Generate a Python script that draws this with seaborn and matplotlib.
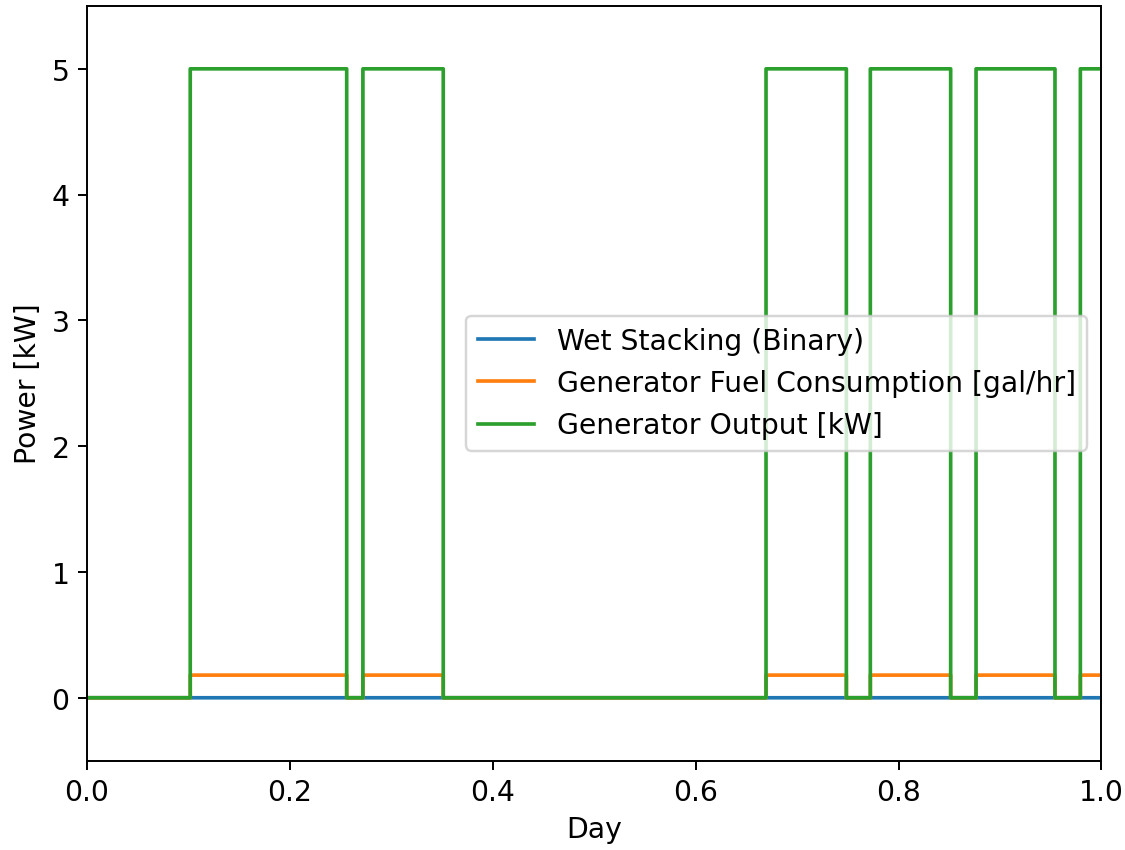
import numpy as np
import pandas as pd
import matplotlib
matplotlib.use("Agg")
import matplotlib.pyplot as plt
import seaborn as sns

# Periodos em que o gerador esta ligado (fração do dia)
on_starts = [0.102, 0.272, 0.669, 0.772, 0.876, 0.979]
on_ends = [0.256, 0.351, 0.748, 0.851, 0.954, 1.0]
gen_output_kw = 5.0      # saída do gerador quando ligado
fuel_rate = 0.18         # consumo em gal/hr quando ligado
wet_stacking = 0.0       # binário, nunca ativo

# Série temporal com passo de 1 minuto
t = np.linspace(0, 1, 1441)
on = np.zeros_like(t, dtype=bool)
for a, b in zip(on_starts, on_ends):
    on |= (t >= a) & (t < b)
on[-1] = on[-2]

df = pd.DataFrame({
    "Day": t,
    "wet": np.full_like(t, wet_stacking),
    "fuel": np.where(on, fuel_rate, 0.0),
    "gen": np.where(on, gen_output_kw, 0.0),
})

plt.rcParams["font.size"] = 11.6

fig, ax = plt.subplots(figsize=(6.4, 4.84), dpi=175.8)

sns.lineplot(ax=ax, data=df, x="Day", y="wet", estimator=None, color="tab:blue",
             label="Wet Stacking (Binary)", drawstyle="steps-post", lw=1.5)
sns.lineplot(ax=ax, data=df, x="Day", y="fuel", estimator=None, color="tab:orange",
             label="Generator Fuel Consumption [gal/hr]", drawstyle="steps-post", lw=1.5)
sns.lineplot(ax=ax, data=df, x="Day", y="gen", estimator=None, color="tab:green",
             label="Generator Output [kW]", drawstyle="steps-post", lw=1.5)

ax.set_xlim(0, 1)
ax.set_ylim(-0.5, 5.5)
ax.set_xlabel("Day")
ax.set_ylabel("Power [kW]")
ax.legend(loc="center right")

plt.subplots_adjust(left=0.077, right=0.979, bottom=0.105, top=0.992)
plt.savefig("out.png", dpi=175.8)
